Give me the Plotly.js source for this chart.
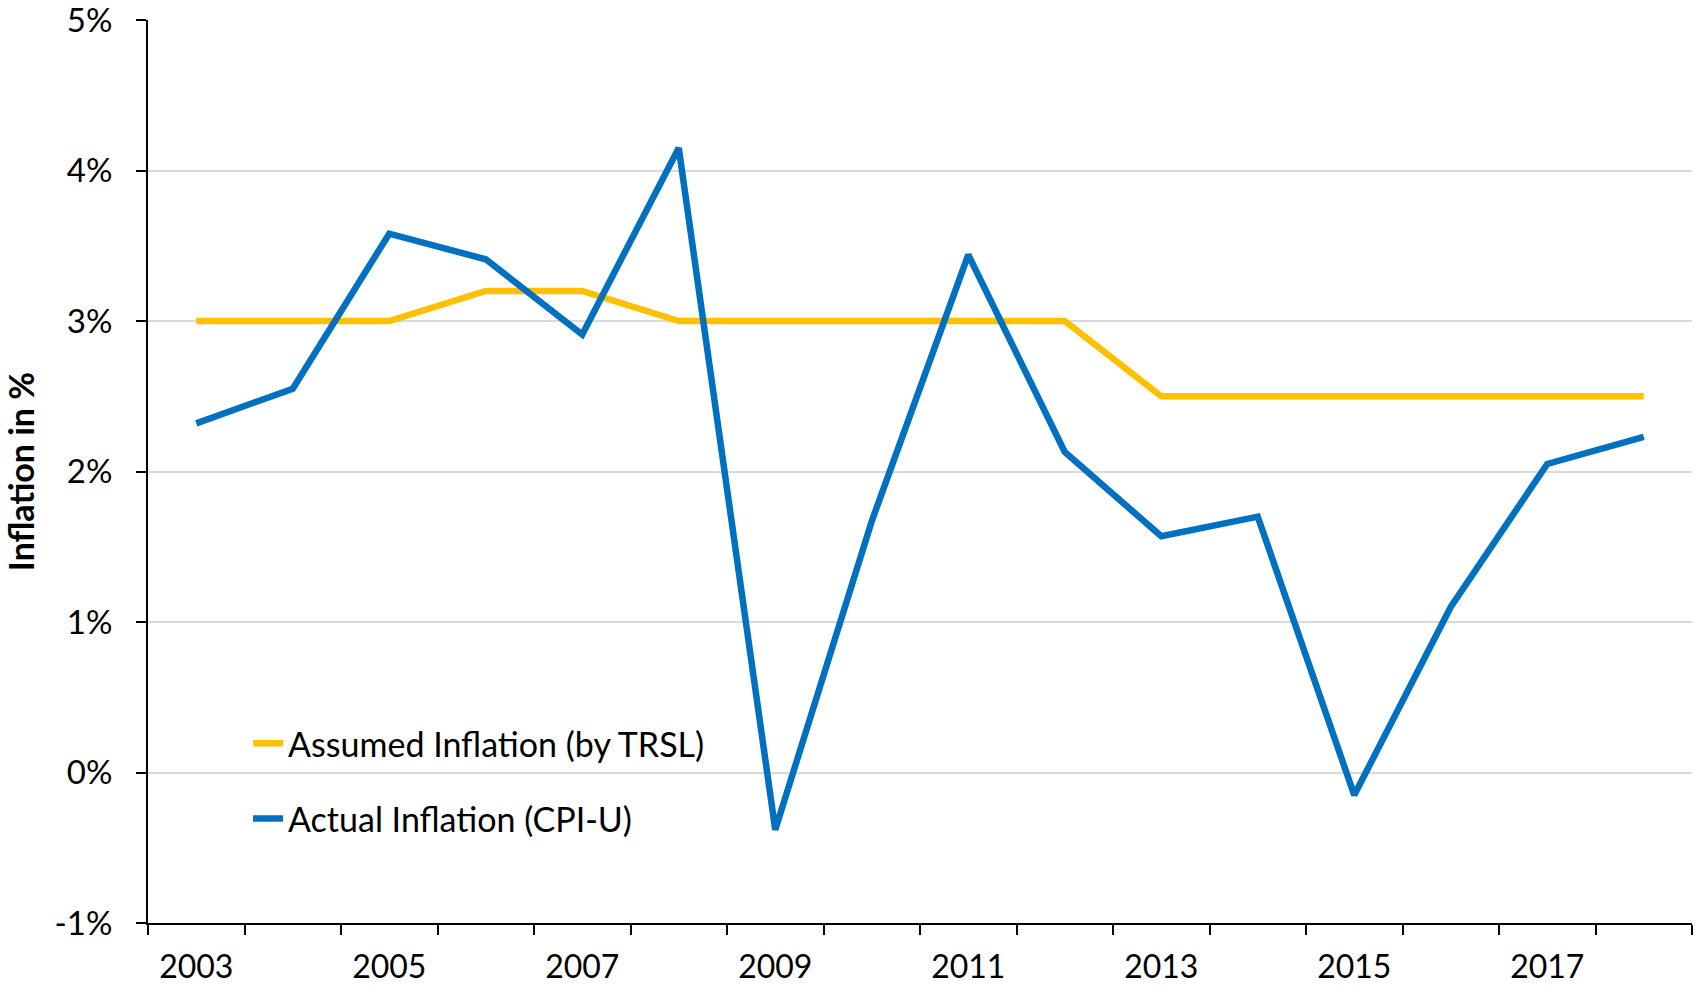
<!DOCTYPE html>
<html>
<head>
<meta charset="utf-8">
<script src="https://cdn.plot.ly/plotly-3.0.1.min.js"></script>
<style>
html,body{margin:0;padding:0;background:#fff;}
#chart{width:1698px;height:987px;}
</style>
</head>
<body>
<div id="chart"></div>
<script>
// ---- data ----
const years = [2003, 2004, 2005, 2006, 2007, 2008, 2009, 2010, 2011, 2012, 2013, 2014, 2015, 2016, 2017, 2018];
const assumedInflation = [3.0, 3.0, 3.0, 3.2, 3.2, 3.0, 3.0, 3.0, 3.0, 3.0, 2.5, 2.5, 2.5, 2.5, 2.5, 2.5];
const actualInflation = [2.32, 2.55, 3.58, 3.41, 2.91, 4.15, -0.38, 1.67, 3.44, 2.13, 1.57, 1.70, -0.15, 1.10, 2.05, 2.23];
const labelYears = [2003, 2005, 2007, 2009, 2011, 2013, 2015, 2017];
const yTicks = [-1, 0, 1, 2, 3, 4, 5];
const seriesNames = ['Assumed Inflation (by TRSL)', 'Actual Inflation (CPI-U)'];

// category boundaries for the tick marks
const boundaries = years.map(y => y - 0.5).concat([years[years.length - 1] + 0.5]);
const xRange = [boundaries[0], boundaries[boundaries.length - 1]];

const FONT = 'Lato, "Liberation Sans", sans-serif';

const traces = [
  {
    x: years, y: assumedInflation, name: seriesNames[0], type: 'scatter', mode: 'lines',
    line: {color: '#FFC000', width: 6.5}, legendgroup: 'a', xaxis: 'x', yaxis: 'y'
  },
  {
    x: years, y: actualInflation, name: seriesNames[1], type: 'scatter', mode: 'lines',
    line: {color: '#0070C0', width: 6.5}, legendgroup: 'b', xaxis: 'x', yaxis: 'y'
  }
];

// invisible trace to activate the labelled x axis (xaxis2)
traces.push({x: [labelYears[0]], y: [null], xaxis: 'x2', yaxis: 'y', showlegend: false,
  hoverinfo: 'skip', mode: 'markers', marker: {opacity: 0}});

const layout = {
  width: 1698, height: 987,
  paper_bgcolor: '#ffffff', plot_bgcolor: '#ffffff',
  margin: {l: 148, r: 6, t: 20, b: 64},
  font: {family: FONT, size: 33, color: '#000'},
  showlegend: true,
  legend: {
    x: 0.0648, xanchor: 'left', y: 0.157, yanchor: 'middle',
    bgcolor: 'rgba(0,0,0,0)', borderwidth: 0,
    font: {family: FONT, size: 34, color: '#000'},
    traceorder: 'grouped', tracegroupgap: 28
  },
  xaxis: {
    type: 'linear', range: xRange,
    tickmode: 'array', tickvals: boundaries, showticklabels: false,
    ticks: 'outside', ticklen: 10, tickwidth: 2, tickcolor: '#000',
    showline: true, linecolor: '#000', linewidth: 2,
    showgrid: false, zeroline: false, fixedrange: true
  },
  xaxis2: {
    type: 'linear', range: xRange, overlaying: 'x', anchor: 'y', side: 'bottom',
    tickmode: 'array', tickvals: labelYears, ticktext: labelYears.map(String),
    ticks: '', showline: false, showgrid: false, zeroline: false,
    ticklabelstandoff: 22, ticklabeloverflow: 'allow',
    tickfont: {family: FONT, size: 32, color: '#000'}
  },
  yaxis: {
    range: [-1, 5], tickmode: 'array', tickvals: yTicks,
    ticktext: yTicks.map(v => v + '%'),
    ticks: 'outside', ticklen: 10, tickwidth: 2, tickcolor: '#000',
    showline: true, linecolor: '#000', linewidth: 2,
    showgrid: true, gridcolor: '#D9D9D9', gridwidth: 2,
    zeroline: false, ticklabelstandoff: 17, ticklabeloverflow: 'allow',
    tickfont: {family: FONT, size: 33, color: '#000'},
    title: {text: 'Inflation in %', font: {family: FONT, size: 34, color: '#000', weight: 'bold'}, standoff: 14}
  }
};

Plotly.newPlot('chart', traces, layout, {staticPlot: true, displayModeBar: false});
</script>
</body>
</html>
